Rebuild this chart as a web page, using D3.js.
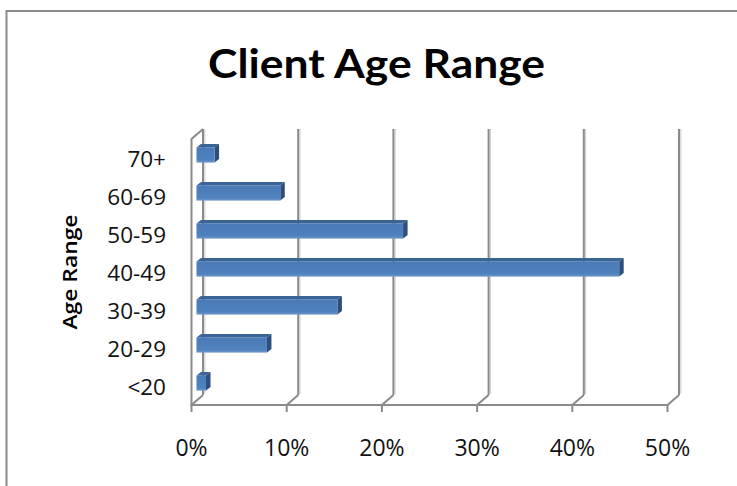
<!DOCTYPE html>
<html>
<head>
<meta charset="utf-8">
<script src="https://cdn.jsdelivr.net/npm/d3@7"></script>
<style>
  html, body { margin: 0; padding: 0; background: #fff; }
  svg { display: block; }
</style>
</head>
<body>
<svg id="chart" width="737" height="486"></svg>
<script>
// ---- data ----
const categories = ["70+", "60-69", "50-59", "40-49", "30-39", "20-29", "<20"];
const values = [0.019, 0.088, 0.217, 0.444, 0.148, 0.074, 0.010];
const xTicks = [0, 0.1, 0.2, 0.3, 0.4, 0.5];
const titleText = "Client Age Range";
const yAxisTitle = "Age Range";

// ---- layout ----
const svg = d3.select("#chart");
const frontX0 = 191.5, frontBottom = 405, wallTop = 139;
const backDX = 11.5, backDY = -10;
const barDX = 5, barDepthX = 4.5, barDepthY = 3.5;
const gridColor = "#8a8a8a";

const x = d3.scaleLinear().domain([0, 0.5]).range([0, 476]);
const y = d3.scaleBand().domain(categories).range([136, 402]).paddingInner(0.6).paddingOuter(0.3);

// frame (left and top border)
svg.append("line").attr("x1", 6.5).attr("y1", 10).attr("x2", 6.5).attr("y2", 486)
  .attr("stroke", gridColor).attr("stroke-width", 2);
svg.append("line").attr("x1", 6).attr("y1", 11).attr("x2", 737).attr("y2", 11)
  .attr("stroke", gridColor).attr("stroke-width", 2);

// title
svg.append("text").attr("x", 376.5).attr("y", 78)
  .attr("text-anchor", "middle").attr("font-family", "Lato").attr("font-weight", "bold")
  .attr("font-size", 41).attr("fill", "#000")
  .attr("textLength", 337).attr("lengthAdjust", "spacingAndGlyphs").text(titleText);

// back wall gridlines (with light shading line)
const g = svg.append("g");
g.selectAll("line.gridshade").data(xTicks).enter().append("line")
  .attr("x1", d => frontX0 + backDX + x(d) + 1.8).attr("x2", d => frontX0 + backDX + x(d) + 1.8)
  .attr("y1", wallTop + backDY).attr("y2", frontBottom + backDY - 1)
  .attr("stroke", "#d4d4d4").attr("stroke-width", 1.2);
g.selectAll("line.grid").data(xTicks).enter().append("line")
  .attr("x1", d => frontX0 + backDX + x(d)).attr("x2", d => frontX0 + backDX + x(d))
  .attr("y1", wallTop + backDY).attr("y2", frontBottom + backDY)
  .attr("stroke", gridColor).attr("stroke-width", 2);
// floor diagonals
g.selectAll("line.floor").data(xTicks).enter().append("line")
  .attr("x1", d => frontX0 + x(d)).attr("x2", d => frontX0 + backDX + x(d))
  .attr("y1", frontBottom).attr("y2", frontBottom + backDY)
  .attr("stroke", gridColor).attr("stroke-width", 2);
// left wall
g.append("path")
  .attr("d", `M${frontX0},${frontBottom} L${frontX0},${wallTop} L${frontX0 + backDX},${wallTop + backDY}`)
  .attr("fill", "none").attr("stroke", gridColor).attr("stroke-width", 2);
// front axis
g.append("line").attr("x1", frontX0 + x(0) - 1).attr("x2", frontX0 + x(0.5) + 1)
  .attr("y1", frontBottom).attr("y2", frontBottom).attr("stroke", gridColor).attr("stroke-width", 2);
g.selectAll("line.tick").data(xTicks).enter().append("line")
  .attr("x1", d => frontX0 + x(d)).attr("x2", d => frontX0 + x(d))
  .attr("y1", frontBottom).attr("y2", frontBottom + 7)
  .attr("stroke", gridColor).attr("stroke-width", 2);

// x labels
svg.selectAll("text.xl").data(xTicks).enter().append("text")
  .attr("x", d => frontX0 + x(d)).attr("y", 456)
  .attr("text-anchor", "middle").attr("font-family", "Open Sans").attr("font-size", 23)
  .attr("fill", "#111").text(d => d3.format(".0%")(d));

// y labels
svg.selectAll("text.yl").data(categories).enter().append("text")
  .attr("x", 166).attr("y", d => y(d) + y.bandwidth() / 2 + 4.5)
  .attr("dy", "0.35em")
  .attr("text-anchor", "end").attr("font-family", "Open Sans").attr("font-size", 22.5)
  .attr("fill", "#111").text(d => d);

// y axis title
svg.append("text").attr("transform", "translate(77,272) rotate(-90)")
  .attr("text-anchor", "middle").attr("font-family", "Open Sans").attr("font-weight", 600)
  .attr("font-size", 19).attr("fill", "#000")
  .attr("textLength", 115).attr("lengthAdjust", "spacingAndGlyphs").text(yAxisTitle);

// gradient for bar front
const defs = svg.append("defs");
const grad = defs.append("linearGradient").attr("id", "barGrad").attr("x1", 0).attr("y1", 0).attr("x2", 0).attr("y2", 1);
grad.append("stop").attr("offset", "0%").attr("stop-color", "#4a7bb7");
grad.append("stop").attr("offset", "80%").attr("stop-color", "#4f81bd");
grad.append("stop").attr("offset", "100%").attr("stop-color", "#6f97c9");

// bars
const bars = svg.selectAll("g.bar").data(categories.map((c, i) => ({ c, v: values[i] }))).enter()
  .append("g").attr("class", "bar");
const bx0 = frontX0 + barDX;
bars.append("path").attr("fill", "#3b6496").attr("d", d => {
  const yy = y(d.c), x1 = bx0 + x(d.v);
  return `M${bx0},${yy} L${bx0 + barDepthX},${yy - barDepthY} L${x1 + barDepthX},${yy - barDepthY} L${x1},${yy} Z`;
});
bars.append("path").attr("fill", "#2c4e79").attr("d", d => {
  const yy = y(d.c), h = y.bandwidth(), x1 = bx0 + x(d.v);
  return `M${x1},${yy} L${x1 + barDepthX},${yy - barDepthY} L${x1 + barDepthX},${yy + h - barDepthY} L${x1},${yy + h} Z`;
});
bars.append("rect").attr("x", bx0).attr("y", d => y(d.c))
  .attr("width", d => x(d.v)).attr("height", y.bandwidth()).attr("fill", "url(#barGrad)");
</script>
</body>
</html>
